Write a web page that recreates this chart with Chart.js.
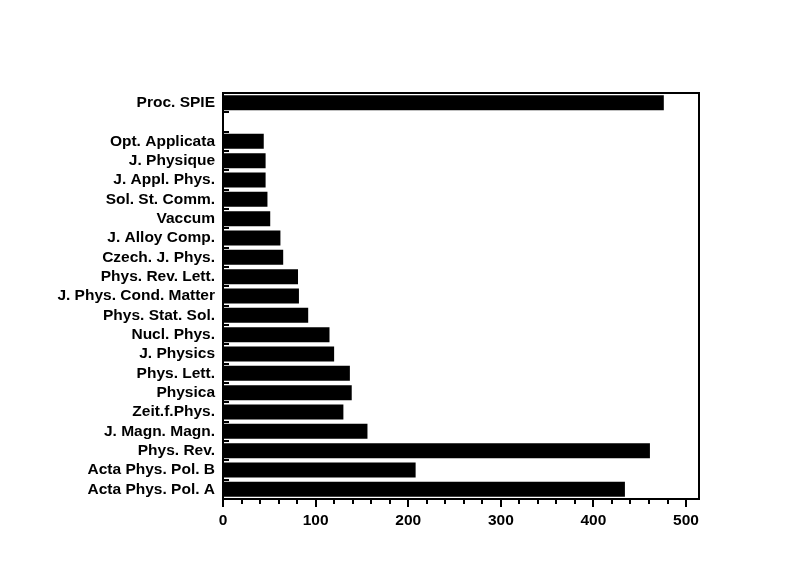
<!DOCTYPE html>
<html>
<head>
<meta charset="utf-8">
<script src="https://cdn.jsdelivr.net/npm/chart.js@4.4.1/dist/chart.umd.min.js"></script>
<style>
  html, body { margin: 0; padding: 0; background: #fff; }
  #wrap { width: 790px; height: 580px; }
</style>
</head>
<body>
<div id="wrap"><canvas id="myChart"></canvas></div>
<script>
// journals, top to bottom (blank slot below Proc. SPIE)
const journals = ["Proc. SPIE", "", "Opt. Applicata", "J. Physique", "J. Appl. Phys.",
  "Sol. St. Comm.", "Vaccum", "J. Alloy Comp.", "Czech. J. Phys.", "Phys. Rev. Lett.",
  "J. Phys. Cond. Matter", "Phys. Stat. Sol.", "Nucl. Phys.", "J. Physics", "Phys. Lett.",
  "Physica", "Zeit.f.Phys.", "J. Magn. Magn.", "Phys. Rev.", "Acta Phys. Pol. B",
  "Acta Phys. Pol. A"];
const papers = [476, null, 44, 46, 46, 48, 51, 62, 65, 81, 82, 92, 115, 120, 137,
  139, 130, 156, 461, 208, 434];
const xTicks = [0, 100, 200, 300, 400, 500];
const xMinorStep = 20;
const xMax = 514;

// frame + tick marks
const frame = {
  id: "frame",
  afterDraw(chart) {
    const ctx = chart.ctx;
    const a = chart.chartArea;
    const x = chart.scales.x;
    ctx.save();
    ctx.strokeStyle = "#000";
    ctx.lineWidth = 2;
    ctx.strokeRect(a.left, a.top, a.right - a.left, a.bottom - a.top);
    // category boundary ticks, inside
    const step = (a.bottom - a.top) / journals.length;
    for (let i = 0; i <= journals.length; i++) {
      const py = Math.round(a.top + i * step);
      ctx.beginPath();
      ctx.moveTo(a.left, py);
      ctx.lineTo(a.left + 6, py);
      ctx.stroke();
    }
    // x ticks, outside
    for (let v = 0; v <= xMax; v += xMinorStep) {
      const px = Math.round(x.getPixelForValue(v));
      const len = v % 100 === 0 ? 8 : 5;
      ctx.beginPath();
      ctx.moveTo(px, a.bottom);
      ctx.lineTo(px, a.bottom + len);
      ctx.stroke();
    }
    ctx.restore();
  }
};

new Chart(document.getElementById("myChart"), {
  type: "bar",
  data: {
    labels: journals,
    datasets: [{
      data: papers,
      backgroundColor: "#000",
      borderWidth: 0,
      categoryPercentage: 1,
      barPercentage: 0.78
    }]
  },
  options: {
    indexAxis: "y",
    responsive: true,
    maintainAspectRatio: false,
    animation: false,
    layout: { padding: { top: 93, right: 91, bottom: 0, left: 0 } },
    plugins: { legend: { display: false }, tooltip: { enabled: false } },
    scales: {
      y: {
        grid: { display: false, drawTicks: false },
        border: { display: false },
        afterFit(scale) { scale.width = 223; },
        ticks: {
          autoSkip: false,
          padding: 8,
          color: "#000",
          font: { family: "Liberation Sans, Arial", size: 15.5, weight: "bold" }
        }
      },
      x: {
        min: 0,
        max: xMax,
        grid: { display: false, drawTicks: false },
        border: { display: false },
        afterFit(scale) { scale.height = 81; },
        afterBuildTicks(scale) { scale.ticks = xTicks.map(v => ({ value: v })); },
        ticks: {
          padding: 12,
          color: "#000",
          font: { family: "Liberation Sans, Arial", size: 15.5, weight: "bold" }
        }
      }
    }
  },
  plugins: [frame]
});
</script>
</body>
</html>
